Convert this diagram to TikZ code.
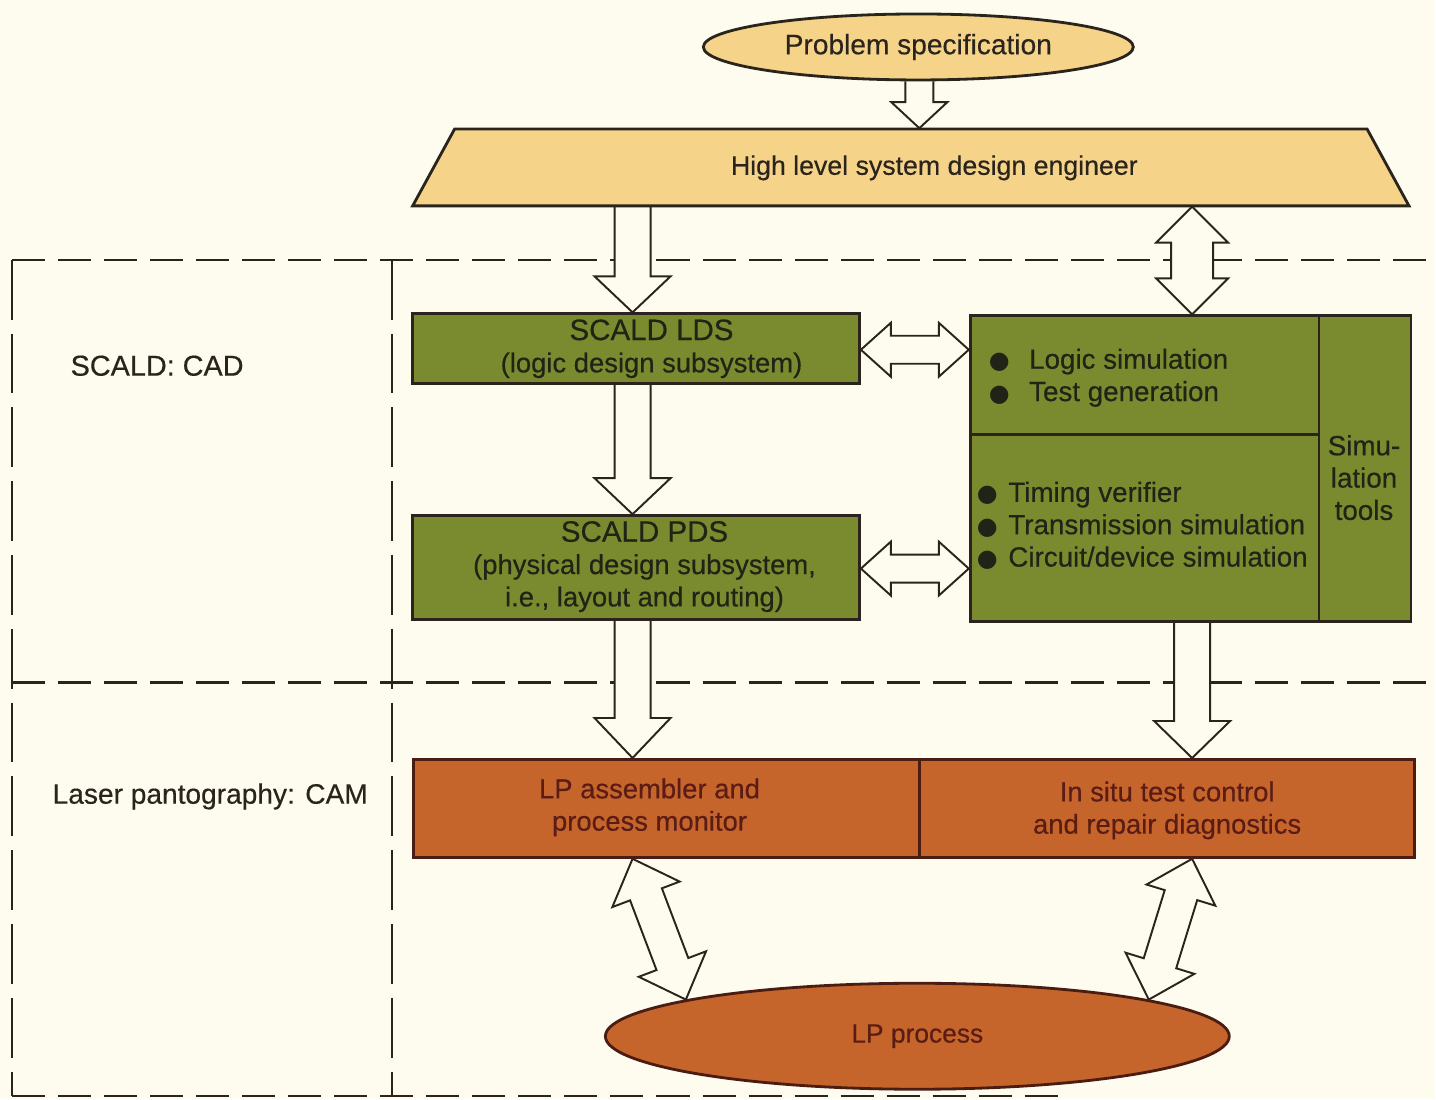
\documentclass[tikz,border=0pt]{standalone}
\usepackage{fontspec}
\setmainfont{Liberation Sans}[FakeBold=0.4]
\newfontfamily\dejavu{DejaVu Sans}
\usetikzlibrary{shapes.geometric,calc}
\definecolor{bg}{HTML}{FEFCEF}
\definecolor{ylw}{HTML}{F5D48A}
\definecolor{grn}{HTML}{7A8A2E}
\definecolor{org}{HTML}{C6652B}
\definecolor{ink}{HTML}{2A241C}
\definecolor{gink}{HTML}{202316}
\definecolor{oink}{HTML}{5A1C14}
\definecolor{obrd}{HTML}{4A1C12}
\pgfdeclarelayer{bgl}
\pgfdeclarelayer{arl}
\pgfsetlayers{bgl,arl,main}
\newcommand\blt[1][5pt]{{\dejavu\fontsize{6.8}{6.8}\selectfont ●}\hspace{#1}}
\newcommand\fs[1]{\fontsize{#1}{9.2}\selectfont}
% single block arrow: start, end, shaft half width, head half width, head length
\newcommand\blockarrow[5]{%
  \coordinate (sbh) at ($(#2)!#5!(#1)$);
  \fill[bg] ($(#1)!#3!90:(#2)$) -- ($(sbh)!#3!90:(#2)$) -- ($(sbh)!#4!90:(#2)$) -- (#2)
    -- ($(sbh)!#4!-90:(#2)$) -- ($(sbh)!#3!-90:(#2)$) -- ($(#1)!#3!-90:(#2)$) -- cycle;
  \draw[arrowline] ($(#1)!#3!90:(#2)$) -- ($(sbh)!#3!90:(#2)$) -- ($(sbh)!#4!90:(#2)$) -- (#2)
    -- ($(sbh)!#4!-90:(#2)$) -- ($(sbh)!#3!-90:(#2)$) -- ($(#1)!#3!-90:(#2)$);
}
% double block arrow
\newcommand\dblockarrow[5]{%
  \coordinate (dbh1) at ($(#1)!#5!(#2)$);
  \coordinate (dbh2) at ($(#2)!#5!(#1)$);
  \draw[arrowline, fill=bg] (#1) -- ($(dbh1)!#4!90:(#2)$) -- ($(dbh1)!#3!90:(#2)$)
    -- ($(dbh2)!#3!90:(#2)$) -- ($(dbh2)!#4!90:(#2)$) -- (#2)
    -- ($(dbh2)!#4!-90:(#2)$) -- ($(dbh2)!#3!-90:(#2)$)
    -- ($(dbh1)!#3!-90:(#2)$) -- ($(dbh1)!#4!-90:(#2)$) -- cycle;
}
\begin{document}
\begin{tikzpicture}[x=0.01cm,y=-0.01cm,
  box/.style={draw=ink, line width=0.8pt, rectangle, inner sep=0pt},
  gbox/.style={box, fill=grn},
  obox/.style={box, fill=org, draw=obrd},
  txt/.style={font=\fs{8}, align=center, inner sep=0pt},
  gtxt/.style={txt, text=gink},
  otxt/.style={txt, text=oink},
  hdash/.style={draw=ink, line width=0.6pt, dash pattern=on 9.4pt off 3.7pt},
  vdash/.style={draw=ink, line width=0.6pt, dash pattern=on 17pt off 4pt},
  arrowline/.style={draw=ink, line width=0.55pt, line join=miter},
]
\begin{pgfonlayer}{bgl}
\fill[bg] (0,0) rectangle (1436,1100);
\draw[vdash] (12,260) -- (12,1097);
\draw[vdash] (392,260) -- (392,1097);
\draw[hdash] (12,260) -- (1436,260);
\draw[hdash] (12,683) -- (1436,683);
\draw[hdash] (12,1097) -- (1060,1097);
\end{pgfonlayer}
\useasboundingbox (0,0) rectangle (1436,1100);

% nodes
\node[ellipse, draw=ink, line width=0.8pt, fill=ylw, minimum width=4.3cm, minimum height=0.66cm,
      inner sep=0pt, font=\fs{8}, text=ink] (ps) at (919,47) {Problem specification};
\draw[draw=ink, line width=0.8pt, fill=ylw, line join=miter] (455,129) -- (1368,129) -- (1410,206) -- (413,206) -- cycle;
\node[rectangle, inner sep=0pt, minimum width=9.97cm, minimum height=0.77cm] (tz) at (911.5,167.5) {};
\node[txt, text=ink, font=\fs{7.6}] (tzt) at (935,168) {High level system design engineer};

\node[gbox, minimum width=4.47cm, minimum height=0.70cm] (lds) at (636.5,349) {};
\node[gtxt, font=\fs{7.8}] (ldst) at (652,349) {{\fs{8.4}SCALD LDS}\\(logic design subsystem)};
\node[gbox, minimum width=4.47cm, minimum height=1.04cm] (pds) at (636.5,568) {};
\node[gtxt, font=\fs{7.8}] (pdst) at (645,567) {{\fs{8.4}SCALD PDS}\\(physical design subsystem,\\i.e., layout and routing)};

\node[gbox, minimum width=3.49cm, minimum height=1.19cm] (sim1) at (1145.5,375.5) {};
\node[gbox, minimum width=3.49cm, minimum height=1.87cm] (sim2) at (1145.5,528.5) {};
\node[gbox, minimum width=0.92cm, minimum height=3.06cm] (simt) at (1366,469) {};
\node[gtxt, font=\fs{7.9}, align=left, anchor=west] (sim1t) at (989,378) {\blt[5.5pt]Logic simulation\\\blt[5.5pt]Test generation};
\node[gtxt, font=\fs{7.9}, align=left, anchor=west] (sim2t) at (977,526) {\blt[3pt]Timing verifier\\\blt[3pt]Transmission simulation\\\blt[3pt]Circuit/device simulation};
\node[gtxt, font=\fs{7.9}] (simtt) at (1365,478) {Simu-\\lation\\tools};

\node[obox, minimum width=5.06cm, minimum height=0.98cm] (lp1) at (667,809) {};
\node[obox, minimum width=4.95cm, minimum height=0.98cm] (lp2) at (1167.5,809) {};
\node[otxt, font=\fs{7.8}] (lp1t) at (650,808) {LP assembler and\\process monitor};
\node[otxt, font=\fs{7.8}] (lp2t) at (1168,811) {In situ test control\\and repair diagnostics};

\node[ellipse, draw=obrd, line width=0.8pt, fill=org, minimum width=6.24cm, minimum height=1.06cm,
      inner sep=0pt, font=\fs{7.5}, text=oink] (lpp) at (918,1037) {LP process};

\node[txt, text=ink, font=\fs{8.2}, anchor=west] (cadl) at (70,366) {SCALD: CAD};
\node[txt, text=ink, font=\fs{8}, anchor=west] (caml) at (52,797) {Laser pantography: CAM};

% arrows
\coordinate (xp) at (920,0);
\coordinate (xl) at (633,0);
\coordinate (xr) at (1193,0);
\coordinate (yl1) at (0,350);
\coordinate (yl2) at (0,569);
\coordinate (a1s) at (ps.south -| xp);
\coordinate (a1e) at (tz.north -| xp);
\coordinate (a2s) at (tz.south -| xl);
\coordinate (a2e) at (lds.north -| xl);
\coordinate (a3s) at (lds.south -| xl);
\coordinate (a3e) at (pds.north -| xl);
\coordinate (a4s) at (pds.south -| xl);
\coordinate (a4e) at (lp1.north -| xl);
\coordinate (a5s) at (sim2.south -| xr);
\coordinate (a5e) at (lp2.north -| xr);
\coordinate (d1s) at (tz.south -| xr);
\coordinate (d1e) at (sim1.north -| xr);
\coordinate (d2s) at (lds.east |- yl1);
\coordinate (d2e) at (sim1.west |- yl1);
\coordinate (d3s) at (pds.east |- yl2);
\coordinate (d3e) at (sim2.west |- yl2);
\coordinate (d4s) at (lp1.south -| xl);
\coordinate (d4e) at (lpp.171);
\coordinate (d5s) at (lp2.south -| xr);
\coordinate (d5e) at (lpp.9);
\begin{pgfonlayer}{arl}
\blockarrow{a1s}{a1e}{0.14cm}{0.28cm}{0.26cm}
\blockarrow{a2s}{a2e}{0.18cm}{0.38cm}{0.36cm}
\blockarrow{a3s}{a3e}{0.18cm}{0.38cm}{0.36cm}
\blockarrow{a4s}{a4e}{0.18cm}{0.38cm}{0.40cm}
\blockarrow{a5s}{a5e}{0.18cm}{0.38cm}{0.37cm}
\dblockarrow{d1s}{d1e}{0.21cm}{0.36cm}{0.36cm}
\dblockarrow{d2s}{d2e}{0.14cm}{0.27cm}{0.30cm}
\dblockarrow{d3s}{d3e}{0.14cm}{0.27cm}{0.30cm}
\dblockarrow{d4s}{d4e}{0.17cm}{0.36cm}{0.38cm}
\dblockarrow{d5s}{d5e}{0.17cm}{0.36cm}{0.38cm}
\end{pgfonlayer}
\end{tikzpicture}
\end{document}
